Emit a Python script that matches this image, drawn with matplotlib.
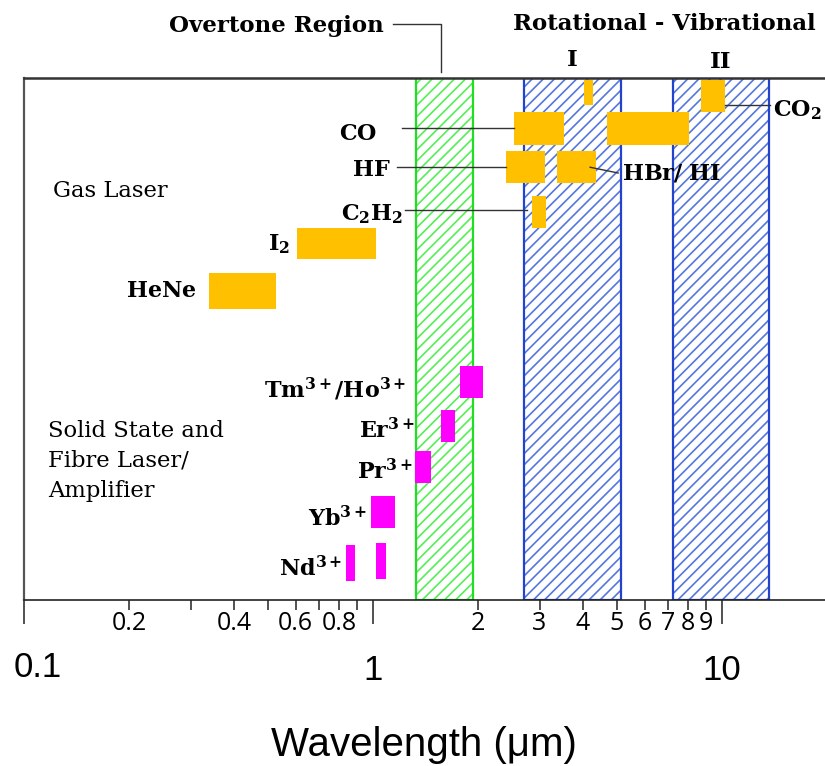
import numpy as np
import matplotlib
matplotlib.use("Agg")
import matplotlib.pyplot as plt
from matplotlib.ticker import FixedLocator, FixedFormatter

# absorption regions (um): overtone, rot-vib I, rot-vib II
region_lo = [1.33, 2.71, 7.24]
region_hi = [1.93, 5.14, 13.6]

# gas laser lines (um) and row extents (0-100, bottom to top)
gas_lo = [8.7, 4.03, 2.54, 4.68, 2.40, 3.37, 2.86, 0.606, 0.339]
gas_hi = [10.2, 4.27, 3.53, 8.04, 3.11, 4.36, 3.13, 1.02, 0.527]
gas_bottom = [93.5, 94.8, 87.2, 87.2, 79.9, 79.9, 71.3, 65.3, 55.7]
gas_top = [99.6, 99.6, 93.5, 93.5, 86.0, 86.0, 77.4, 71.3, 62.6]

# solid state / fibre dopants
solid_lo = [1.776, 1.566, 1.319, 0.987, 0.837, 1.02]
solid_hi = [2.07, 1.718, 1.466, 1.156, 0.888, 1.09]
solid_bottom = [38.7, 30.3, 22.4, 13.8, 3.6, 4.0]
solid_top = [44.8, 36.4, 28.5, 19.9, 10.5, 10.9]

# species labels: text, x (um), baseline row, alignment
species_text = [r'$\mathbf{CO}$', r'$\mathbf{HF}$', r'$\mathbf{HBr/\ HI}$',
                r'$\mathbf{C_2H_2}$', r'$\mathbf{CO_2}$', r'$\mathbf{I_2}$',
                r'$\mathbf{HeNe}$', r'$\mathbf{Tm^{3+}/Ho^{3+}}$',
                r'$\mathbf{Er^{3+}}$', r'$\mathbf{Pr^{3+}}$',
                r'$\mathbf{Yb^{3+}}$', r'$\mathbf{Nd^{3+}}$']
species_x = [1.027, 1.119, 5.17, 1.219, 14.0, 0.578, 0.313,
             1.243, 1.319, 1.30, 0.961, 0.815]
species_y = [88.1, 81.2, 80.5, 72.8, 92.7, 66.9, 58.0,
             38.7, 31.0, 23.2, 14.2, 4.6]
species_ha = ['right', 'right', 'left', 'right', 'left', 'right', 'right',
              'right', 'right', 'right', 'right', 'right']

major_ticks = [0.1, 1, 10]
major_labels = ['', '1', '10']
minor_ticks = [0.2, 0.3, 0.4, 0.5, 0.6, 0.7, 0.8, 0.9, 2, 3, 4, 5, 6, 7, 8, 9]
minor_labels = ['0.2', '', '0.4', '', '0.6', '', '0.8', '',
                '2', '3', '4', '5', '6', '7', '8', '9']

orange = '#FFC000'
magenta = '#FF00FF'

plt.rcParams['mathtext.fontset'] = 'custom'
plt.rcParams['mathtext.rm'] = 'DejaVu Serif'
plt.rcParams['mathtext.bf'] = 'DejaVu Serif:bold'
plt.rcParams['hatch.linewidth'] = 1.2

fig = plt.figure(figsize=(8.25, 7.66), dpi=100)
ax = fig.add_axes([24/825, 166/766, 801/825, 522/766])
ax.set_xscale('log')
ax.set_xlim(0.1, 19.73)
ax.set_ylim(0, 100)

# hatched regions, then the outlines on top
hatch_col = ['#55EE55', '#5577DD', '#5577DD']
edge_col = ['#22DD22', '#2244CC', '#2244CC']
for lo, hi, hc, ec in zip(region_lo, region_hi, hatch_col, edge_col):
    ax.axvspan(lo, hi, facecolor='none', edgecolor=hc, hatch='///', lw=0)
    ax.axvspan(lo, hi, facecolor='none', edgecolor=ec, lw=1.6)

ax.barh(gas_bottom, np.subtract(gas_hi, gas_lo), left=gas_lo,
        height=np.subtract(gas_top, gas_bottom), align='edge', color=orange)
ax.barh(solid_bottom, np.subtract(solid_hi, solid_lo), left=solid_lo,
        height=np.subtract(solid_top, solid_bottom), align='edge', color=magenta)

for t, x, y, ha in zip(species_text, species_x, species_y, species_ha):
    ax.text(x, y, t, ha=ha, va='baseline', fontsize=16, clip_on=False)

# leader lines
lc = '#333333'
ax.plot([1.211, gas_lo[2]], [90.4, 90.4], color=lc, lw=1)
ax.plot([1.172, gas_lo[4]], [82.95, 82.95], color=lc, lw=1)
ax.plot([4.19, 5.04], [82.9, 81.8], color=lc, lw=1)
ax.plot([1.233, 2.76], [74.7, 74.7], color=lc, lw=1)
ax.plot([gas_hi[0], 13.7], [94.8, 94.8], color=lc, lw=1)
ax.plot([1.141, 1.57, 1.57], [110.3, 110.3, 101.1], color=lc, lw=1, clip_on=False)

bold = dict(family='DejaVu Serif', weight='bold', fontsize=16.5, va='baseline')
ax.text(0.527, 108.8, 'Overtone Region', ha='center', clip_on=False, **bold)
ax.text(6.82, 109.2, 'Rotational - Vibrational', ha='center', clip_on=False, **bold)
ax.text(np.sqrt(region_lo[1]*region_hi[1]), 102.3, 'I', ha='center', clip_on=False, **bold)
ax.text(np.sqrt(region_lo[2]*region_hi[2]), 101.9, 'II', ha='center', clip_on=False, **bold)

plain = dict(family='DejaVu Serif', fontsize=16.3, va='baseline')
ax.text(0.121, 77.2, 'Gas Laser', ha='left', **plain)
for line, y in zip(['Solid State and', 'Fibre Laser/', 'Amplifier'], [31.2, 25.5, 19.7]):
    ax.text(0.1172, y, line, ha='left', **plain)

# axis styling
ax.spines['right'].set_visible(False)
ax.spines['top'].set_color('#333333')
ax.spines['top'].set_linewidth(1.8)
ax.spines['left'].set_color('#555555')
ax.spines['left'].set_linewidth(1.6)
ax.spines['bottom'].set_color('#222222')
ax.spines['bottom'].set_linewidth(1.2)

ax.xaxis.set_major_locator(FixedLocator(major_ticks))
ax.xaxis.set_major_formatter(FixedFormatter(major_labels))
ax.xaxis.set_minor_locator(FixedLocator(minor_ticks))
ax.xaxis.set_minor_formatter(FixedFormatter(minor_labels))
ax.tick_params(axis='x', which='major', length=17, width=1.1, pad=22,
               labelsize=25, color='#222222')
ax.tick_params(axis='x', which='minor', length=7, width=1.1, pad=1,
               labelsize=18, color='#222222')
for lab in ax.get_xticklabels(which='major'):
    lab.set_family('Liberation Sans')
for lab in ax.get_xticklabels(which='minor'):
    lab.set_family('Open Sans')
ax.set_yticks([])

# first decade label sits inside the figure edge
ax.text(0.1097, -0.13, '0.1', transform=ax.get_xaxis_transform(),
        ha='center', va='center', family='Liberation Sans', fontsize=25)

fig.text(424/825, 1 - 745/766, 'Wavelength (\u03bcm)', ha='center', va='center',
         family='Liberation Sans', fontsize=29)

fig.savefig('out.png', dpi=100)
